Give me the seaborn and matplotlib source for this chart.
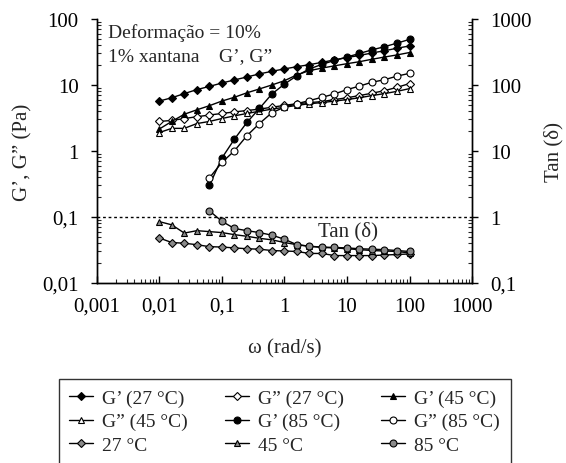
import numpy as np
import pandas as pd
import matplotlib
matplotlib.use('Agg')
import matplotlib.pyplot as plt
import seaborn as sns

# frequency sweep (rad/s), 5 points per decade
omega = [0.01, 0.0158, 0.0251, 0.0398, 0.0631, 0.1, 0.158, 0.251, 0.398, 0.631,
         1, 1.58, 2.51, 3.98, 6.31, 10, 15.8, 25.1, 39.8, 63.1, 100]
omega_85 = omega[4:]

# moduli (Pa)
g1_27 = [5.7, 6.4, 7.4, 8.5, 9.5, 10.7, 11.9, 13.2, 14.7, 16.1, 17.5, 18.9, 20.3,
         22, 24, 26, 28, 30.5, 33, 36, 39]
g2_27 = [2.8, 2.9, 3.1, 3.3, 3.5, 3.7, 3.9, 4.1, 4.3, 4.6, 4.9, 5.2, 5.4,
         5.6, 6.0, 6.4, 6.9, 7.5, 8.2, 9.2, 10.5]
g1_45 = [2.15, 2.8, 3.6, 4.2, 4.85, 5.7, 6.5, 7.6, 8.7, 10, 11.6, 14.2, 16.5,
         18, 19.5, 21, 22.5, 24.5, 26.5, 28.5, 31]
g2_45 = [1.9, 2.2, 2.2, 2.6, 2.8, 3.1, 3.4, 3.7, 4.0, 4.3, 4.6, 4.9, 5.2,
         5.4, 5.7, 6.0, 6.4, 6.9, 7.4, 8.0, 8.8]
g1_85 = [0.30, 0.78, 1.5, 2.7, 4.4, 7.3, 10.3, 13.8, 17.5, 20.5, 23.5, 26.5,
         30, 34, 38, 43, 49]
g2_85 = [0.39, 0.67, 1.0, 1.7, 2.6, 3.8, 4.6, 5.2, 5.8, 6.5, 7.3, 8.5, 9.6,
         11, 12, 13.6, 15]

# loss tangent
tan_27 = [0.48, 0.41, 0.40, 0.38, 0.355, 0.35, 0.34, 0.33, 0.325, 0.31, 0.305,
          0.30, 0.28, 0.28, 0.26, 0.26, 0.26, 0.26, 0.265, 0.27, 0.275]
tan_45 = [0.85, 0.76, 0.57, 0.62, 0.60, 0.58, 0.54, 0.51, 0.475, 0.45, 0.41,
          0.38, 0.36, 0.345, 0.34, 0.33, 0.32, 0.31, 0.305, 0.30, 0.285]
tan_85 = [1.24, 0.86, 0.67, 0.62, 0.58, 0.53, 0.46, 0.38, 0.36, 0.35, 0.345,
          0.34, 0.33, 0.325, 0.32, 0.31, 0.30]

sns.set_style('ticks')
plt.rcParams['font.family'] = ['Liberation Serif', 'DejaVu Serif']

fig = plt.figure(figsize=(5.66, 4.64), dpi=100)
ax = fig.add_axes([0.171, 0.388, 0.663, 0.569])
ax2 = ax.twinx()

series = [
    (ax, omega, g1_27, 'D', 'black', 'G’ (27 °C)'),
    (ax, omega, g2_27, 'D', 'white', 'G” (27 °C)'),
    (ax, omega, g1_45, '^', 'black', 'G’ (45 °C)'),
    (ax, omega, g2_45, '^', 'white', 'G” (45 °C)'),
    (ax, omega_85, g1_85, 'o', 'black', 'G’ (85 °C)'),
    (ax, omega_85, g2_85, 'o', 'white', 'G” (85 °C)'),
    (ax2, omega, tan_27, 'D', '#8a8a8a', '27 °C'),
    (ax2, omega, tan_45, '^', '#8a8a8a', '45 °C'),
    (ax2, omega_85, tan_85, 'o', '#8a8a8a', '85 °C'),
]

handles = []
for axis, x, y, mk, fc, lab in series:
    df = pd.DataFrame({'w': x, 'v': y})
    ms = 4.2 if mk == 'D' else 5
    sns.lineplot(data=df, x='w', y='v', ax=axis, color='black', lw=1,
                 marker=mk, markersize=ms, markerfacecolor=fc,
                 markeredgecolor='black', markeredgewidth=0.8, label=lab,
                 legend=False)
    handles.append(axis.lines[-1])

for a in (ax, ax2):
    a.set_xscale('log')
    a.set_yscale('log')
ax.set_xlim(0.001, 1000)
ax.set_ylim(0.01, 100)
ax2.set_ylim(0.1, 1000)

ax.axhline(0.1, color='black', lw=1, ls=(0, (2, 2)))

ax.set_xticks([0.001, 0.01, 0.1, 1, 10, 100, 1000])
ax.set_xticklabels(['0,001', '0,01', '0,1', '1', '10', '100', '1000'])
ax.set_yticks([0.01, 0.1, 1, 10, 100])
ax.set_yticklabels(['0,01', '0,1', '1', '10', '100'])
ax2.set_yticks([0.1, 1, 10, 100, 1000])
ax2.set_yticklabels(['0,1', '1', '10', '100', '1000'])

for a in (ax, ax2):
    for s in a.spines.values():
        s.set_color('black')
        s.set_linewidth(1)
    a.spines['top'].set_visible(False)
    a.tick_params(axis='both', which='major', labelsize=15, colors='black',
                  length=4, width=1)
    a.tick_params(axis='y', which='major', direction='out', pad=9)
    a.tick_params(axis='y', which='minor', direction='in', length=3, width=0.8)
    a.tick_params(axis='x', which='major', direction='in', length=5, pad=10)
    a.tick_params(axis='x', which='minor', direction='in', length=3, width=0.8)
    a.tick_params(axis='x', which='minor', labelbottom=False)
    a.tick_params(axis='y', which='minor', labelleft=False, labelright=False)

ax.set_xlabel('ω (rad/s)', fontsize=15, labelpad=16)
ax.set_ylabel('G’, G” (Pa)', fontsize=15, labelpad=7)
ax2.set_ylabel('Tan (δ)', fontsize=15, labelpad=9)

ax.text(0.03, 0.985, 'Deformação = 10%', transform=ax.transAxes,
        fontsize=14, va='top', ha='left')
ax.text(0.03, 0.895, '1% xantana    G’, G”', transform=ax.transAxes,
        fontsize=14, va='top', ha='left')
ax.text(0.59, 0.197, 'Tan (δ)', transform=ax.transAxes,
        fontsize=15, va='center', ha='left')

# legend is filled column by column
order = [0, 3, 6, 1, 4, 7, 2, 5, 8]
leg = fig.legend([handles[i] for i in order],
                 [series[i][5] for i in order],
                 ncol=3, loc='upper center', bbox_to_anchor=(0.503, 0.203),
                 fontsize=14, frameon=True, fancybox=False, edgecolor='black',
                 handlelength=1.2, handletextpad=0.5, columnspacing=1.9,
                 labelspacing=0.3, borderpad=0.55)
leg.get_frame().set_linewidth(1)

fig.savefig('out.png', dpi=100)
